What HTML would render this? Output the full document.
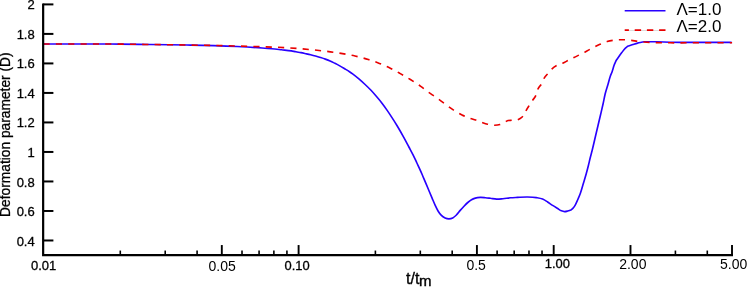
<!DOCTYPE html>
<html><head><meta charset="utf-8"><style>
html,body{margin:0;padding:0;background:#fff;}
svg{display:block;will-change:transform}
text{font-family:"Liberation Sans",sans-serif;fill:#000;font-size:13px;stroke:#000;stroke-width:0.3px}
.yl{font-size:13px}
.xl{font-size:13px}
</style></head><body>
<svg width="748" height="287" viewBox="0 0 748 287">
<rect width="748" height="287" fill="#fff"/>
<path d="M43.50 44.00 C62.33 44.00 81.17 43.93 100.00 44.00 C106.67 44.02 113.33 44.04 120.00 44.10 C130.00 44.18 140.00 44.37 150.00 44.50 C162.33 44.67 174.67 44.77 187.00 45.00 C196.00 45.17 205.00 45.32 214.00 45.60 C221.67 45.84 229.33 46.12 237.00 46.50 C245.33 46.91 253.67 47.37 262.00 48.00 C265.25 48.25 268.50 48.50 271.75 48.80 C275.00 49.10 278.25 49.46 281.50 49.80 C284.77 50.14 288.03 50.29 291.30 50.85 C292.87 51.12 294.43 51.51 296.00 51.80 C297.63 52.11 299.27 52.33 300.90 52.65 C302.52 52.97 304.13 53.34 305.75 53.70 C307.37 54.06 308.98 54.41 310.60 54.80 C312.23 55.19 313.87 55.60 315.50 56.05 C317.13 56.50 318.77 56.99 320.40 57.50 C322.03 58.01 323.67 58.52 325.30 59.10 C326.90 59.67 328.50 60.25 330.10 60.95 C331.70 61.65 333.30 62.49 334.90 63.30 C336.52 64.12 338.13 64.95 339.75 65.85 C341.37 66.75 342.98 67.73 344.60 68.70 C346.23 69.68 347.87 70.63 349.50 71.70 C350.53 72.37 351.57 73.05 352.60 73.80 C354.70 75.31 356.80 77.10 358.90 78.90 C360.97 80.67 363.03 82.55 365.10 84.50 C367.07 86.36 369.03 88.21 371.00 90.30 C372.77 92.18 374.53 94.23 376.30 96.30 C378.20 98.52 380.10 100.73 382.00 103.20 C383.67 105.37 385.33 107.70 387.00 110.10 C388.67 112.50 390.33 115.03 392.00 117.60 C393.70 120.22 395.40 122.88 397.10 125.70 C399.37 129.46 401.63 133.46 403.90 137.60 C405.57 140.64 407.23 143.86 408.90 147.00 C410.37 149.76 411.83 152.33 413.30 155.30 C414.50 157.73 415.70 160.43 416.90 163.00 C418.00 165.35 419.10 167.58 420.20 170.05 C421.15 172.18 422.10 174.48 423.05 176.70 C424.03 179.00 425.02 181.27 426.00 183.60 C427.10 186.20 428.20 188.89 429.30 191.50 C430.23 193.72 431.17 195.91 432.10 198.10 C433.10 200.45 434.10 202.95 435.10 205.10 C436.13 207.33 437.17 209.50 438.20 211.20 C439.27 212.96 440.33 214.32 441.40 215.40 C442.63 216.65 443.87 217.33 445.10 217.90 C446.37 218.48 447.63 218.80 448.90 218.80 C450.17 218.80 451.43 218.55 452.70 217.90 C453.93 217.27 455.17 216.23 456.40 215.00 C457.67 213.74 458.93 211.87 460.20 210.40 C461.47 208.93 462.73 207.52 464.00 206.20 C465.27 204.88 466.53 203.59 467.80 202.50 C469.03 201.43 470.27 200.43 471.50 199.70 C472.77 198.95 474.03 198.48 475.30 198.10 C476.97 197.60 478.63 197.47 480.30 197.40 C482.00 197.33 483.70 197.55 485.40 197.70 C487.07 197.85 488.73 198.09 490.40 198.30 C492.50 198.56 494.60 199.04 496.70 199.10 C498.77 199.16 500.83 198.88 502.90 198.70 C505.43 198.48 507.97 198.02 510.50 197.80 C512.83 197.60 515.17 197.52 517.50 197.40 C520.83 197.23 524.17 196.94 527.50 197.00 C530.43 197.05 533.37 197.11 536.30 197.60 C538.40 197.95 540.50 198.20 542.60 199.10 C544.27 199.81 545.93 200.95 547.60 202.00 C549.27 203.05 550.93 204.32 552.60 205.40 C554.27 206.48 555.93 207.48 557.60 208.50 C558.87 209.27 560.13 210.28 561.40 210.80 C562.47 211.24 563.53 211.56 564.60 211.60 C565.63 211.63 566.67 211.32 567.70 211.05 C568.93 210.73 570.17 210.15 571.40 209.70 C572.07 209.07 572.73 208.63 573.40 207.80 C574.00 207.06 574.60 206.16 575.20 205.10 C576.07 203.57 576.93 201.48 577.80 199.50 C578.63 197.60 579.47 195.82 580.30 193.50 C581.37 190.53 582.43 186.56 583.50 183.00 C584.43 179.88 585.37 176.89 586.30 173.50 C587.00 170.96 587.70 168.33 588.40 165.50 C588.97 163.21 589.53 160.60 590.10 158.30 C590.80 155.45 591.50 153.00 592.20 150.20 C593.57 144.74 594.93 138.50 596.30 132.70 C597.70 126.76 599.10 121.01 600.50 115.00 C601.37 111.28 602.23 107.64 603.10 103.70 C603.80 100.52 604.50 96.68 605.20 93.80 C606.07 90.23 606.93 87.99 607.80 85.00 C608.63 82.12 609.47 78.64 610.30 76.20 C610.90 74.44 611.50 73.42 612.10 71.70 C612.73 69.88 613.37 67.29 614.00 65.50 C614.77 63.33 615.53 61.97 616.30 60.20 C618.07 57.73 619.83 55.10 621.60 52.80 C622.87 51.15 624.13 49.33 625.40 48.10 C626.18 47.34 626.97 46.83 627.75 46.20 C629.47 45.63 631.18 45.04 632.90 44.50 C634.47 44.01 636.03 43.49 637.60 43.10 C638.87 42.78 640.13 42.56 641.40 42.30 C642.33 42.11 643.27 41.93 644.20 41.75 C648.27 41.77 652.33 41.73 656.40 41.80 C660.93 41.87 665.47 42.10 670.00 42.20 C680.00 42.42 690.00 42.37 700.00 42.40 C710.53 42.44 721.07 42.40 731.60 42.40" fill="none" stroke="#2800ff" stroke-width="1.65" stroke-linejoin="round"/>
<path d="M43.50 44.00 C62.33 44.00 81.17 43.93 100.00 44.00 C106.67 44.02 113.33 44.04 120.00 44.10 C130.00 44.18 140.00 44.37 150.00 44.50 C162.33 44.67 174.67 44.80 187.00 45.00 C196.00 45.15 205.00 45.32 214.00 45.50 C221.67 45.66 229.33 45.80 237.00 46.00 C245.33 46.21 253.67 46.46 262.00 46.75 C270.33 47.04 278.67 47.25 287.00 47.75 C295.33 48.25 303.67 48.92 312.00 49.75 C320.33 50.58 328.67 51.46 337.00 52.75 C343.00 53.68 349.00 54.63 355.00 56.00 C359.43 57.01 363.87 58.13 368.30 59.50 C371.43 60.47 374.57 61.50 377.70 62.70 C381.90 64.30 386.10 66.12 390.30 68.20 C393.63 69.85 396.97 71.73 400.30 73.60 C403.67 75.49 407.03 77.41 410.40 79.50 C413.73 81.57 417.07 83.71 420.40 86.10 C423.10 88.04 425.80 90.38 428.50 92.30 C430.80 93.94 433.10 95.31 435.40 96.90 C437.90 98.63 440.40 100.49 442.90 102.30 C446.47 104.88 450.03 107.79 453.60 110.10 C456.40 111.91 459.20 113.62 462.00 115.00 C464.67 116.31 467.33 117.29 470.00 118.25 C471.90 118.93 473.80 119.44 475.70 120.10 C477.77 120.82 479.83 121.69 481.90 122.40 C483.80 123.05 485.70 123.74 487.60 124.20 C489.70 124.71 491.80 125.16 493.90 125.20 C495.90 125.24 497.90 125.13 499.90 124.50 C501.73 123.92 503.57 122.58 505.40 121.75 C506.33 121.33 507.27 120.80 508.20 120.55 C509.40 120.22 510.60 120.39 511.80 120.30 C513.73 120.15 515.67 120.51 517.60 119.80 C518.87 119.33 520.13 118.74 521.40 117.70 C521.97 117.23 522.53 116.84 523.10 116.10 C524.03 114.89 524.97 112.45 525.90 110.80 C526.97 108.91 528.03 107.28 529.10 105.60 C530.33 103.66 531.57 101.88 532.80 100.00 C533.87 98.38 534.93 97.82 536.00 95.10 C536.63 93.48 537.27 90.73 537.90 89.10 C539.13 85.93 540.37 86.09 541.60 83.80 C542.47 82.19 543.33 79.74 544.20 78.20 C545.47 75.94 546.73 75.03 548.00 73.50 C549.33 71.89 550.67 70.08 552.00 68.80 C553.70 67.17 555.40 66.21 557.10 65.30 C558.97 64.30 560.83 64.02 562.70 63.20 C564.60 62.36 566.50 61.26 568.40 60.30 C570.27 59.36 572.13 58.42 574.00 57.50 C576.87 56.08 579.73 54.79 582.60 53.30 C585.10 52.00 587.60 50.51 590.10 49.20 C593.40 47.47 596.70 45.71 600.00 44.30 C602.37 43.29 604.73 42.28 607.10 41.60 C608.97 41.06 610.83 40.69 612.70 40.40 C614.90 40.05 617.10 39.90 619.30 39.80 C621.33 39.71 623.37 39.70 625.40 39.80 C627.43 39.90 629.47 40.15 631.50 40.40 C633.53 40.65 635.57 41.04 637.60 41.30 C639.80 41.58 642.00 41.81 644.20 42.00 C646.13 42.17 648.07 42.30 650.00 42.40 C652.13 42.51 654.27 42.54 656.40 42.60 C660.93 42.72 665.47 42.76 670.00 42.80 C680.00 42.90 690.00 42.77 700.00 42.75 C710.70 42.73 721.40 42.72 732.10 42.70" fill="none" stroke="#e90000" stroke-width="1.6" stroke-dasharray="6.17 6.175"/>
<path d="M43.15 3.4 V255.05 H733" fill="none" stroke="#000" stroke-width="2.2" stroke-linejoin="miter"/>
<line x1="43.2" x2="53.4" y1="4.40" y2="4.40" stroke="#000" stroke-width="2"/>
<text x="27.47" y="9.45" style="font-size:13px">2</text>
<line x1="43.2" x2="53.4" y1="33.91" y2="33.91" stroke="#000" stroke-width="2"/>
<text x="16.63" y="38.96" style="font-size:13px">1.8</text>
<line x1="43.2" x2="53.4" y1="63.42" y2="63.42" stroke="#000" stroke-width="2"/>
<text x="16.63" y="68.47" style="font-size:13px">1.6</text>
<line x1="43.2" x2="53.4" y1="92.93" y2="92.93" stroke="#000" stroke-width="2"/>
<text x="16.63" y="97.98" style="font-size:13px">1.4</text>
<line x1="43.2" x2="53.4" y1="122.44" y2="122.44" stroke="#000" stroke-width="2"/>
<text x="16.63" y="127.49" style="font-size:13px">1.2</text>
<line x1="43.2" x2="53.4" y1="151.95" y2="151.95" stroke="#000" stroke-width="2"/>
<text x="27.47" y="157.00" style="font-size:13px">1</text>
<line x1="43.2" x2="53.4" y1="181.46" y2="181.46" stroke="#000" stroke-width="2"/>
<text x="16.63" y="186.51" style="font-size:13px">0.8</text>
<line x1="43.2" x2="53.4" y1="210.97" y2="210.97" stroke="#000" stroke-width="2"/>
<text x="16.63" y="216.02" style="font-size:13px">0.6</text>
<line x1="43.2" x2="53.4" y1="240.48" y2="240.48" stroke="#000" stroke-width="2"/>
<text x="16.63" y="245.53" style="font-size:13px">0.4</text>
<line x1="120.29" x2="120.29" y1="250.55" y2="255.05" stroke="#000" stroke-width="1.6"/>
<line x1="165.21" x2="165.21" y1="250.55" y2="255.05" stroke="#000" stroke-width="1.6"/>
<line x1="197.09" x2="197.09" y1="250.55" y2="255.05" stroke="#000" stroke-width="1.6"/>
<line x1="221.81" x2="221.81" y1="245.05" y2="255.05" stroke="#000" stroke-width="1.9"/>
<line x1="242.01" x2="242.01" y1="250.55" y2="255.05" stroke="#000" stroke-width="1.6"/>
<line x1="259.08" x2="259.08" y1="250.55" y2="255.05" stroke="#000" stroke-width="1.6"/>
<line x1="273.88" x2="273.88" y1="250.55" y2="255.05" stroke="#000" stroke-width="1.6"/>
<line x1="286.93" x2="286.93" y1="250.55" y2="255.05" stroke="#000" stroke-width="1.6"/>
<line x1="298.60" x2="298.60" y1="245.05" y2="255.05" stroke="#000" stroke-width="1.9"/>
<line x1="375.39" x2="375.39" y1="250.55" y2="255.05" stroke="#000" stroke-width="1.6"/>
<line x1="420.31" x2="420.31" y1="250.55" y2="255.05" stroke="#000" stroke-width="1.6"/>
<line x1="452.19" x2="452.19" y1="250.55" y2="255.05" stroke="#000" stroke-width="1.6"/>
<line x1="476.91" x2="476.91" y1="245.05" y2="255.05" stroke="#000" stroke-width="1.9"/>
<line x1="497.11" x2="497.11" y1="250.55" y2="255.05" stroke="#000" stroke-width="1.6"/>
<line x1="514.18" x2="514.18" y1="250.55" y2="255.05" stroke="#000" stroke-width="1.6"/>
<line x1="528.98" x2="528.98" y1="250.55" y2="255.05" stroke="#000" stroke-width="1.6"/>
<line x1="542.03" x2="542.03" y1="250.55" y2="255.05" stroke="#000" stroke-width="1.6"/>
<line x1="553.70" x2="553.70" y1="245.05" y2="255.05" stroke="#000" stroke-width="1.9"/>
<line x1="630.49" x2="630.49" y1="245.05" y2="255.05" stroke="#000" stroke-width="1.9"/>
<line x1="675.41" x2="675.41" y1="250.55" y2="255.05" stroke="#000" stroke-width="1.6"/>
<line x1="707.29" x2="707.29" y1="250.55" y2="255.05" stroke="#000" stroke-width="1.6"/>
<line x1="732.01" x2="732.01" y1="245.05" y2="255.05" stroke="#000" stroke-width="1.9"/>
<text x="31.00" y="270.20" style="font-size:13px">0.01</text>
<text x="208.5" y="271.45" style="font-size:14px;stroke:none">0.05</text>
<text x="284.60" y="270.30" style="font-size:12.9px">0.10</text>
<text x="466.4" y="270.35" style="font-size:14px;stroke:none">0.5</text>
<text x="544.70" y="268.40" style="font-size:12.95px">1.00</text>
<text x="619.2" y="269.45" style="font-size:14px;stroke:none">2.00</text>
<text x="720" y="268.55" style="font-size:14px;stroke:none">5.00</text>
<text x="406" y="284.3" style="font-size:16px">t/t</text>
<text x="419" y="286.2" style="font-size:15px;stroke-width:0.4px">m</text>
<text transform="translate(10.3 216.9) rotate(-90)" style="font-size:13.77px" id="ylab">Deformation parameter (D)</text>
<line x1="624.7" x2="665.5" y1="10.7" y2="10.7" stroke="#2800ff" stroke-width="1.65"/>
<line x1="625" x2="665" y1="30.5" y2="30.5" stroke="#dedede" stroke-width="1"/>
<line x1="624.7" x2="665.7" y1="30.2" y2="30.2" stroke="#e90000" stroke-width="1.8" stroke-dasharray="6.4 5.8" stroke-dashoffset="2.2"/>
<text x="676.5" y="14.85" style="font-size:17px;stroke:none">Λ=1.0</text>
<text x="676.5" y="32" style="font-size:17px;stroke:none">Λ=2.0</text>
</svg>
</body></html>
